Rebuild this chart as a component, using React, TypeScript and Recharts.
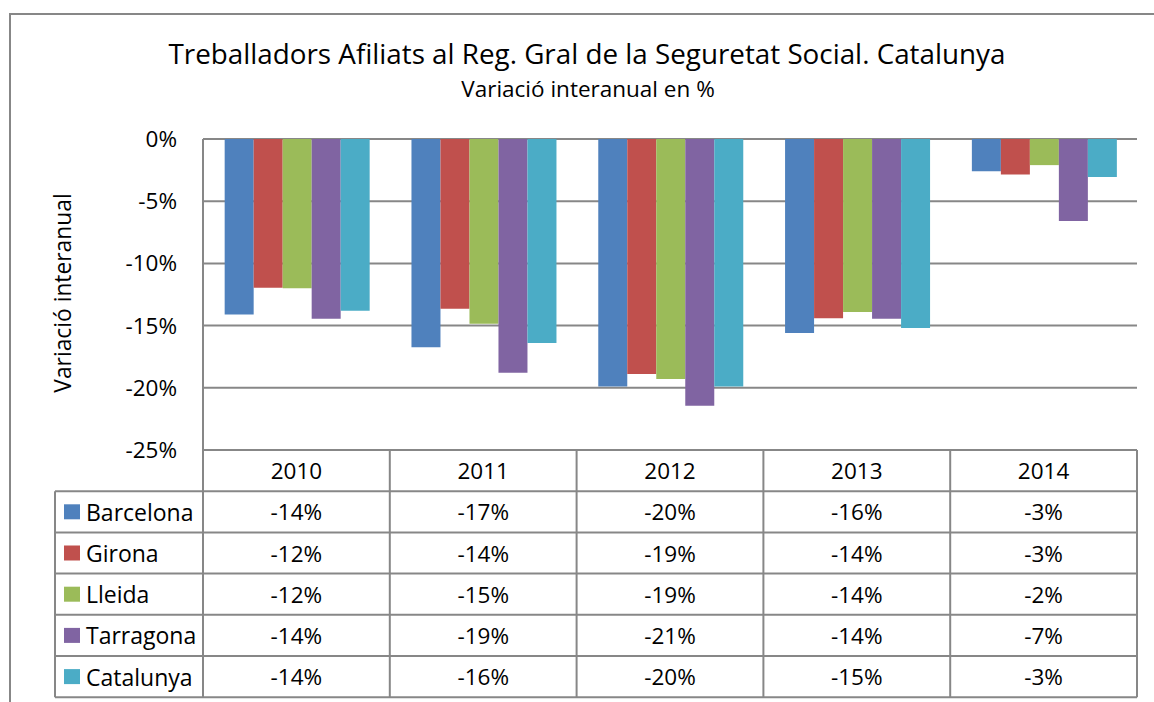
import React from 'react';
import { BarChart, Bar, XAxis, YAxis, CartesianGrid } from 'recharts';

const years = ['2010', '2011', '2012', '2013', '2014'];
const barcelona = [-14.1, -16.75, -19.9, -15.6, -2.6];
const girona = [-11.96, -13.65, -18.9, -14.4, -2.85];
const lleida = [-12.0, -14.86, -19.3, -13.9, -2.1];
const tarragona = [-14.45, -18.8, -21.45, -14.45, -6.6];
const catalunya = [-13.8, -16.4, -19.9, -15.2, -3.05];

const seriesNames = ['Barcelona', 'Girona', 'Lleida', 'Tarragona', 'Catalunya'];
const seriesValues = [barcelona, girona, lleida, tarragona, catalunya];
const seriesColors = ['#4F81BD', '#C0504D', '#9BBB59', '#8064A2', '#4BACC6'];
const yTicks = [0, -5, -10, -15, -20, -25];

const title = 'Treballadors Afiliats al Reg. Gral de la Seguretat Social. Catalunya';
const subtitle = 'Variació interanual en %';
const yLabel = 'Variació interanual';

const data = years.map((y, i) => {
  const row: Record<string, string | number> = { year: y };
  seriesNames.forEach((n, k) => {
    row[n] = seriesValues[k][i];
  });
  return row;
});

const W = 1154;
const H = 702;
const PLOT_LEFT = 203;
const PLOT_RIGHT = 1137;
const PLOT_TOP = 139;
const PLOT_BOTTOM = 450;
const TABLE_LEFT = 55;
const ROW_H = 41.2;
const LINE = '#878787';
const FONT = '"Open Sans", "Noto Sans", sans-serif';

const fmt = (v: number) => `${Math.round(v)}%`;

function TableOverlay() {
  const colW = (PLOT_RIGHT - PLOT_LEFT) / years.length;
  const headerBottom = PLOT_BOTTOM + ROW_H;
  const tableBottom = headerBottom + ROW_H * seriesNames.length;
  const els: React.ReactNode[] = [];
  els.push(
    <path key="outer" d={`M10,${H} L10,14 L${W},14`} fill="none" stroke={LINE} strokeWidth={2} />
  );
  for (let c = 0; c <= years.length; c++) {
    const x = PLOT_LEFT + c * colW;
    els.push(
      <line key={`v${c}`} x1={x} x2={x} y1={PLOT_BOTTOM} y2={tableBottom} stroke={LINE} strokeWidth={2} />
    );
  }
  els.push(
    <line key="lb" x1={TABLE_LEFT} x2={TABLE_LEFT} y1={headerBottom} y2={tableBottom} stroke={LINE} strokeWidth={2} />
  );
  for (let r = 0; r <= seriesNames.length; r++) {
    const y = headerBottom + r * ROW_H;
    els.push(
      <line key={`h${r}`} x1={TABLE_LEFT} x2={PLOT_RIGHT} y1={y} y2={y} stroke={LINE} strokeWidth={2} />
    );
  }
  years.forEach((yr, c) => {
    els.push(
      <text key={`yr${c}`} x={PLOT_LEFT + (c + 0.5) * colW} y={PLOT_BOTTOM + ROW_H / 2} textAnchor="middle" dominantBaseline="central" fontSize={22.5} fontFamily={FONT} fill="#000">
        {yr}
      </text>
    );
  });
  seriesNames.forEach((name, r) => {
    const cy = headerBottom + (r + 0.5) * ROW_H;
    els.push(<rect key={`sq${r}`} x={64} y={cy - 7.5} width={16} height={15} fill={seriesColors[r]} />);
    els.push(
      <text key={`nm${r}`} x={86} y={cy} dominantBaseline="central" fontSize={23} fontFamily={FONT} fill="#000">
        {name}
      </text>
    );
    seriesValues[r].forEach((v, c) => {
      els.push(
        <text key={`c${r}-${c}`} x={PLOT_LEFT + (c + 0.5) * colW} y={cy} textAnchor="middle" dominantBaseline="central" fontSize={22.5} fontFamily={FONT} fill="#000">
          {fmt(v)}
        </text>
      );
    });
  });
  els.push(
    <text key="title" x={587} y={64} textAnchor="middle" fontSize={27.8} fontFamily={FONT} fill="#000">
      {title}
    </text>
  );
  els.push(
    <text key="sub" x={588} y={97} textAnchor="middle" fontSize={22.5} fontFamily={FONT} fill="#000">
      {subtitle}
    </text>
  );
  els.push(
    <text key="ylab" x={62} y={293} textAnchor="middle" dominantBaseline="central" fontSize={22.8} fontFamily={FONT} fill="#000" transform="rotate(-90 62 293)">
      {yLabel}
    </text>
  );
  return (
    <svg width={W} height={H} style={{ position: 'absolute', left: 0, top: 0, pointerEvents: 'none' }}>
      {els}
    </svg>
  );
}

export default function App() {
  const yAxisWidth = 60;
  return (
    <div style={{ position: 'absolute', left: 0, top: 0, width: W, height: H, background: '#fff', overflow: 'hidden' }}>
      <BarChart
        width={W}
        height={H}
        data={data}
        margin={{ top: PLOT_TOP, right: W - PLOT_RIGHT, bottom: H - PLOT_BOTTOM, left: PLOT_LEFT - yAxisWidth }}
        barCategoryGap="11.6%"
        barGap={0}
      >
        <CartesianGrid horizontal vertical={false} stroke={LINE} strokeWidth={2} />
        <XAxis dataKey="year" hide />
        <YAxis
          width={yAxisWidth}
          domain={[-25, 0]}
          ticks={yTicks}
          tickFormatter={(v: number) => `${v}%`}
          tickSize={0}
          tickMargin={26}
          tickLine={false}
          axisLine={{ stroke: LINE, strokeWidth: 2 }}
          tick={{ fontSize: 22.5, fontFamily: FONT, fill: '#000' }}
          interval={0}
        />
        {seriesNames.map((n, k) => (
          <Bar key={n} dataKey={n} fill={seriesColors[k]} isAnimationActive={false} />
        ))}
      </BarChart>
      <TableOverlay />
    </div>
  );
}
